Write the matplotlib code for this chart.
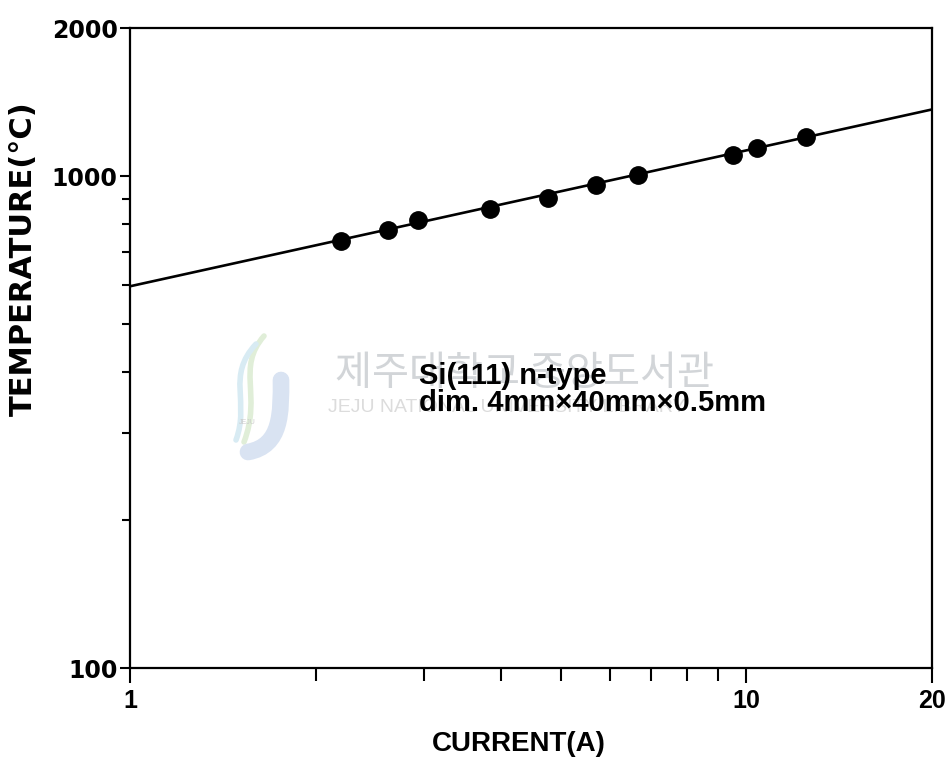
import matplotlib.pyplot as plt
from matplotlib.path import Path
from matplotlib.patches import PathPatch
from matplotlib.ticker import FixedLocator, NullFormatter

# measured points: heating current vs. sample temperature
current = [2.20, 2.62, 2.93, 3.84, 4.77, 5.70, 6.68, 9.51, 10.4, 12.5]
temperature = [738, 778, 815, 858, 904, 961, 1006, 1106, 1141, 1200]

# straight-line fit drawn across the whole current range
fit_current = [1, 20]
fit_temp = [597, 1366]

x_major = [1, 10, 20]
x_minor = [2, 3, 4, 5, 6, 7, 8, 9]
y_major = [100, 1000, 2000]
y_minor = [200, 300, 400, 500, 600, 700, 800, 900]

SANS = ['Liberation Sans', 'DejaVu Sans']
WIDE = ['DejaVu Sans']

fig = plt.figure(figsize=(9.49, 7.6), dpi=100)

# background layer in pixel units for the library stamp
bg = fig.add_axes([0, 0, 1, 1], zorder=-1)
bg.set_xlim(0, 949)
bg.set_ylim(760, 0)
bg.axis('off')

def swoosh(pts, color, lw):
    codes = [Path.MOVETO] + [Path.CURVE4] * (len(pts) - 1)
    bg.add_patch(PathPatch(Path(pts, codes), fill=False, ec=color, lw=lw,
                           capstyle='round'))

swoosh([(264, 336), (236, 368), (262, 395), (244, 442)], '#e0eed8', 4)
swoosh([(256, 344), (226, 376), (250, 402), (236, 440)], '#d8ebf3', 4)
swoosh([(281, 380), (281, 412), (282, 446), (248, 452)], '#d9e3f2', 12)
bg.text(247, 424, 'JEJU', fontsize=5, color='#cccccc', ha='center', family=SANS)
bg.text(335, 373, '제주대학교 중앙도서관', fontsize=29, color='#d2d5d8',
        family=['Noto Sans CJK KR', 'DejaVu Sans'], va='center')
bg.text(328, 407, 'JEJU NATIONAL UNIVERSITY LIBRARY', fontsize=14,
        color='#dcdcdc', family=SANS, va='center')

ax = fig.add_axes([130 / 949, 92 / 760, 802 / 949, 640 / 760])
ax.patch.set_alpha(0)

ax.plot(fit_current, fit_temp, color='black', lw=1.9, zorder=2)
ax.plot(current, temperature, 'o', color='black', ms=12.5, zorder=3)

ax.set_xscale('log')
ax.set_yscale('log')
ax.set_xlim(1, 20)
ax.set_ylim(100, 2000)

ax.xaxis.set_major_locator(FixedLocator(x_major))
ax.xaxis.set_minor_locator(FixedLocator(x_minor))
ax.yaxis.set_major_locator(FixedLocator(y_major))
ax.yaxis.set_minor_locator(FixedLocator(y_minor))
ax.set_xticklabels([str(v) for v in x_major])
ax.set_yticklabels([str(v) for v in y_major])
ax.xaxis.set_minor_formatter(NullFormatter())
ax.yaxis.set_minor_formatter(NullFormatter())

for s in ax.spines.values():
    s.set_linewidth(1.6)

ax.tick_params(which='both', direction='out', width=1.5, top=False, right=False)
ax.tick_params(axis='x', which='major', length=11, pad=4)
ax.tick_params(axis='x', which='minor', length=9)
ax.tick_params(axis='y', which='major', length=7, pad=2)
ax.tick_params(axis='y', which='minor', length=6)

for lab in ax.get_xticklabels():
    lab.set_fontfamily(SANS)
    lab.set_fontweight('bold')
    lab.set_fontsize(18)
for lab in ax.get_yticklabels():
    lab.set_fontfamily(WIDE)
    lab.set_fontweight('bold')
    lab.set_fontsize(17)

ax.set_xlabel('CURRENT(A)', fontsize=20, fontweight='bold', family=SANS)
ax.xaxis.set_label_coords(0.485, -0.098)
ax.set_ylabel('TEMPERATURE(°C)', fontsize=22, fontweight='bold', family=WIDE)
ax.yaxis.set_label_coords(-0.115, 0.64)

ax.text(0.36, 0.478, 'Si(111) n-type\ndim. 4mm\u00d740mm\u00d70.5mm',
        transform=ax.transAxes, fontsize=21, family=SANS, fontweight='bold',
        va='top', linespacing=0.95)

fig.savefig('out.png', dpi=100)
